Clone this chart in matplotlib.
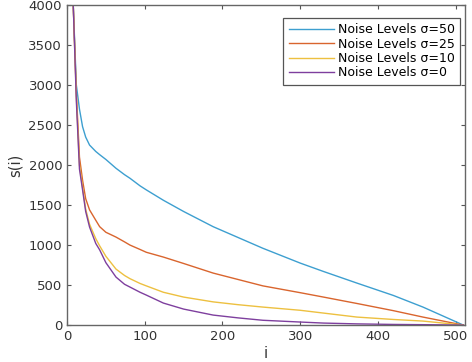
import matplotlib
matplotlib.use("Agg")
import matplotlib.pyplot as plt

# singular value index and values
idx = [1, 5, 8, 12, 16, 20, 24, 29, 37, 42, 50, 63, 74, 81, 94, 102, 124, 150,
       188, 220, 252, 300, 330, 373, 420, 458, 510]
s50 = [12000, 5600, 4000, 3000, 2700, 2480, 2350, 2250, 2170, 2130, 2070, 1960, 1880, 1835,
       1740, 1690, 1560, 1420, 1230, 1095, 960, 775, 670, 525, 370, 225, 0]
s25 = [12000, 5500, 4000, 2900, 2100, 1810, 1580, 1440, 1310, 1230, 1160, 1100, 1040, 1000,
       945, 910, 850, 770, 650, 570, 490, 405, 350, 270, 180, 100, 0]
s10 = [12000, 5500, 4000, 2850, 2000, 1720, 1450, 1260, 1080, 990, 860, 700, 620, 580,
       520, 490, 410, 350, 290, 255, 225, 185, 150, 100, 70, 50, 0]
s0 = [12000, 5500, 4000, 2800, 1950, 1690, 1420, 1225, 1020, 940, 780, 600, 510, 475,
      410, 375, 275, 200, 125, 90, 60, 38, 25, 15, 8, 5, 0]

labels = ["Noise Levels σ=50", "Noise Levels σ=25", "Noise Levels σ=10", "Noise Levels σ=0"]
colors = ["#3d9fd0", "#d9652e", "#edc040", "#7e3f9e"]

fig = plt.figure(figsize=(4.72, 3.62), dpi=100)
ax = fig.add_axes([0.142, 0.102, 0.843, 0.884])

for ys, lab, c in zip([s50, s25, s10, s0], labels, colors):
    ax.plot(idx, ys, color=c, lw=1.0, label=lab)

ax.set_xlim(0, 512)
ax.set_ylim(0, 4000)
ax.set_xticks([0, 100, 200, 300, 400, 500])
ax.set_yticks(range(0, 4001, 500))
ax.tick_params(direction="in", length=3, top=True, right=True,
               labelsize=9.5, colors="#555555", labelcolor="#333333")
for sp in ax.spines.values():
    sp.set_color("#666666")
    sp.set_linewidth(1.0)

ax.set_xlabel("i", fontsize=10.5, color="#333333", labelpad=2)
ax.set_ylabel("s(i)", fontsize=10.5, color="#333333", labelpad=4)

leg = ax.legend(loc="upper right", bbox_to_anchor=(0.995, 0.968), fontsize=9,
                fancybox=False, framealpha=1, edgecolor="#555555",
                handlelength=3.6, handletextpad=0.3, borderpad=0.45,
                labelspacing=0.1, borderaxespad=0.2)
leg.get_frame().set_linewidth(0.9)

fig.savefig("out.png", dpi=100)
